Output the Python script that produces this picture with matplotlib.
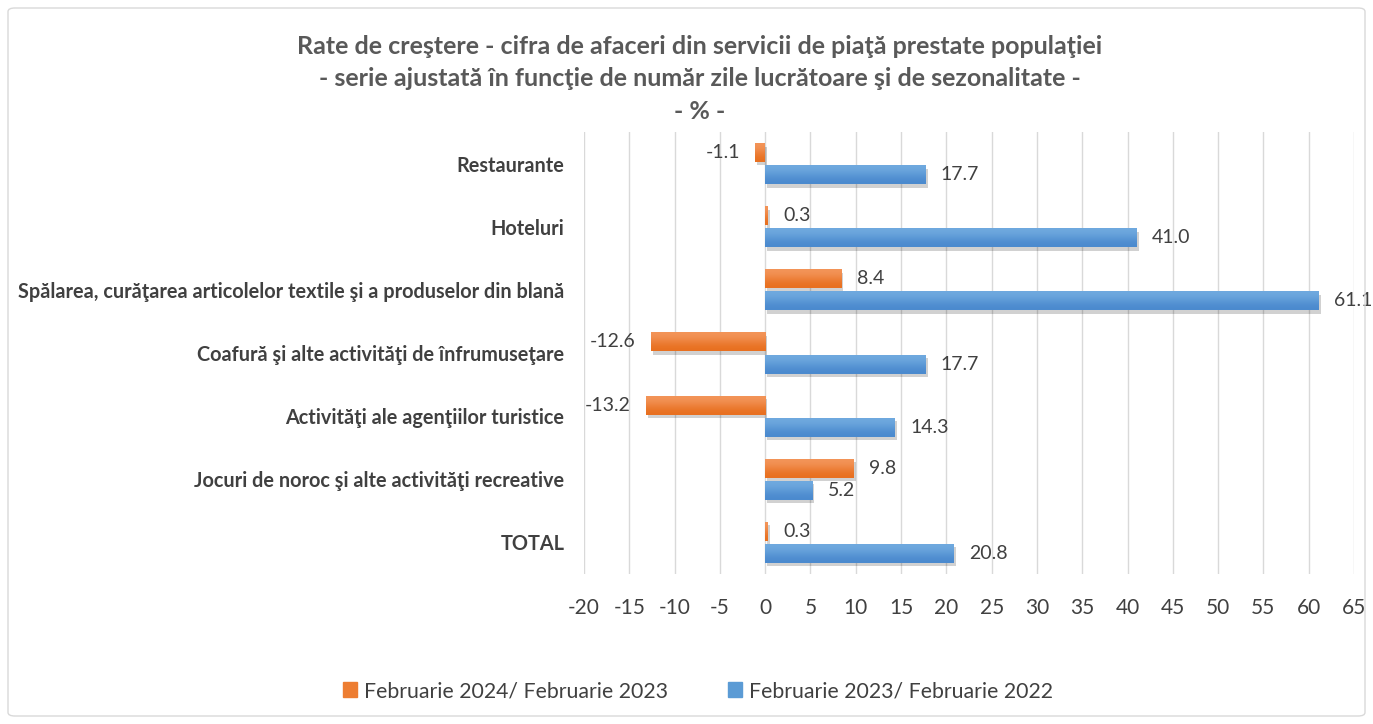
import matplotlib
matplotlib.use("Agg")
import matplotlib.pyplot as plt
import matplotlib.patheffects as pe
from matplotlib.patches import FancyBboxPatch
from matplotlib.colors import LinearSegmentedColormap
import numpy as np

plt.rcParams['font.family'] = ['Lato', 'DejaVu Sans']

categories = ["Restaurante", "Hoteluri",
              "Spălarea, curăţarea articolelor textile şi a produselor din blană",
              "Coafură şi alte activităţi de înfrumuseţare",
              "Activităţi ale agenţiilor turistice",
              "Jocuri de noroc şi alte activităţi recreative",
              "TOTAL"]
series_2024 = [-1.1, 0.3, 8.4, -12.6, -13.2, 9.8, 0.3]
series_2023 = [17.7, 41.0, 61.1, 17.7, 14.3, 5.2, 20.8]
label_2024 = "Februarie 2024/ Februarie 2023"
label_2023 = "Februarie 2023/ Februarie 2022"
xticks = list(range(-20, 70, 5))

title = ("Rate de creştere - cifra de afaceri din servicii de piaţă prestate populaţiei\n"
         "- serie ajustată în funcţie de număr zile lucrătoare şi de sezonalitate -\n"
         "- % -")

W, H = 1373, 724
fig = plt.figure(figsize=(W/100, H/100), dpi=100)
fig.patch.set_facecolor('white')
ax = fig.add_axes([584/W, 1-574/H, (1354-584)/W, (574-132)/H])

orange = '#ED7D31'
blue = '#5B9BD5'
text_col = '#404040'
cmap_o = LinearSegmentedColormap.from_list('o', ['#F3955A', '#E86F1E'])
cmap_b = LinearSegmentedColormap.from_list('b', ['#70AADF', '#4A89CE'])

y = np.arange(len(categories))
h = 0.30
off = 0.175
shadow = [pe.SimplePatchShadow(offset=(1.5, -2.5), shadow_rgbFace='#000000', alpha=0.18), pe.Normal()]
b1 = ax.barh(y - off, series_2024, height=h, color=orange, label=label_2024, zorder=3)
b2 = ax.barh(y + off, series_2023, height=h, color=blue, label=label_2023, zorder=3)
grad = np.array([[0.0], [1.0]])
for bars, cm in ((b1, cmap_o), (b2, cmap_b)):
    for p in bars:
        p.set_path_effects(shadow)
        x0, y0 = p.get_x(), p.get_y()
        w, hh = p.get_width(), p.get_height()
        im = ax.imshow(grad, cmap=cm, aspect='auto', origin='upper',
                       extent=[min(x0, x0 + w), max(x0, x0 + w), y0 + hh, y0],
                       zorder=3.5, interpolation='bicubic')
        im.set_clip_path(p)

for bars, vals in ((b1, series_2024), (b2, series_2023)):
    for p, v in zip(bars, vals):
        yc = p.get_y() + p.get_height()/2
        if v >= 0:
            ax.annotate(f"{v:.1f}", (v, yc), xytext=(11, 0), textcoords='offset points',
                        ha='left', va='center', fontsize=14, color=text_col)
        else:
            ax.annotate(f"{v:.1f}", (v, yc), xytext=(-11, 0), textcoords='offset points',
                        ha='right', va='center', fontsize=14, color=text_col)

ax.set_xlim(-20, 65)
ax.set_ylim(len(categories) - 0.5, -0.5)
ax.set_xticks(xticks)
ax.set_xticklabels([str(t) for t in xticks], fontsize=15, color=text_col)
ax.set_yticks(y)
ax.set_yticklabels(categories, fontsize=14.3, fontweight='bold', color=text_col)
ax.tick_params(axis='x', length=0, pad=17)
ax.tick_params(axis='y', length=0, pad=14)
ax.grid(axis='x', color='#D9D9D9', linewidth=1, zorder=0)
for s in ax.spines.values():
    s.set_visible(False)

fig.text(700/W, 1-35/H, title, ha='center', va='top', fontsize=18, fontweight='bold',
         color='#595959', linespacing=1.5)

handles = [plt.Rectangle((0, 0), 1, 1, color=orange), plt.Rectangle((0, 0), 1, 1, color=blue)]
fig.legend(handles, [label_2024, label_2023], loc='center', bbox_to_anchor=(698/W, 1-691/H),
           ncol=2, frameon=False, fontsize=15.3, handlelength=0.65, handleheight=0.65,
           handletextpad=0.35, columnspacing=2.8, labelcolor=text_col)

border = FancyBboxPatch((8/W, 8/H), (W-16)/W, (H-16)/H, boxstyle='round,pad=0,rounding_size=0.005',
                        transform=fig.transFigure, fill=False, edgecolor='#D9D9D9', linewidth=1)
fig.patches.append(border)

fig.savefig('out.png', dpi=100)
